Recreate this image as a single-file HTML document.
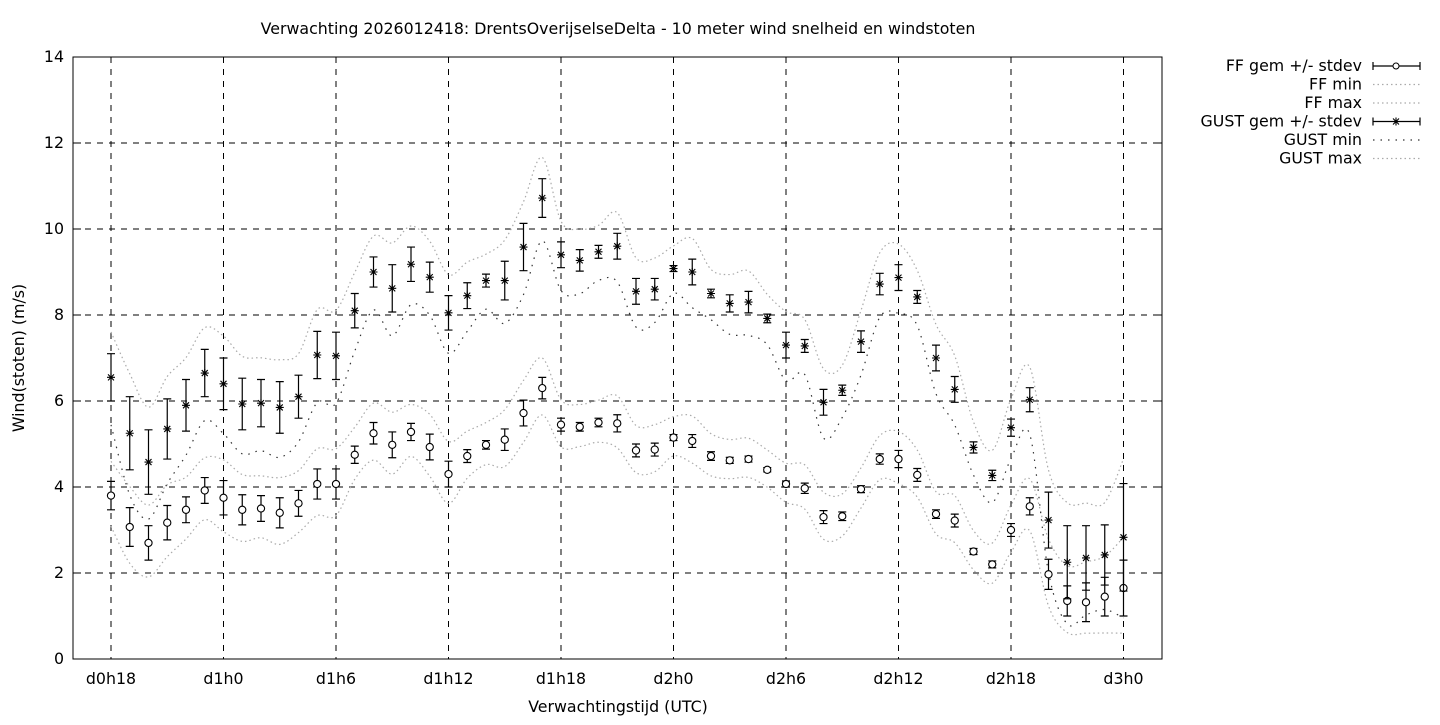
<!DOCTYPE html>
<html><head><meta charset="utf-8"><style>
body{margin:0;background:#fff;}
svg text{font-family:"DejaVu Sans","Liberation Sans",sans-serif;font-size:15.8px;fill:#000;}
</style></head><body>
<svg id="s" width="1440" height="720" xmlns="http://www.w3.org/2000/svg"></svg>
<script>
const s=document.getElementById('s');
const X0=73,X1=1162,Y0=659,Y1=57;
const yv=v=>Y0-(Y0-Y1)*v/14;
const xi=i=>111+i*18.75;
let h='';
h+=`<text x="618" y="34" text-anchor="middle">Verwachting 2026012418: DrentsOverijselseDelta - 10 meter wind snelheid en windstoten</text>`;
for(let v=0;v<=14;v+=2){const y=yv(v);
 if(v>0&&v<14)h+=`<line x1="${X0}" y1="${y}" x2="${X1}" y2="${y}" stroke="#000" stroke-dasharray="6,6"/>`;
 h+=`<line x1="${X0}" y1="${y}" x2="${X0+8}" y2="${y}" stroke="#000"/><line x1="${X1}" y1="${y}" x2="${X1-8}" y2="${y}" stroke="#000"/>`;
 h+=`<text x="${X0-9}" y="${y+5}" text-anchor="end">${v}</text>`;}
const labs=['d0h18','d1h0','d1h6','d1h12','d1h18','d2h0','d2h6','d2h12','d2h18','d3h0'];
labs.forEach((l,k)=>{const x=xi(k*6);
 h+=`<line x1="${x}" y1="${Y1}" x2="${x}" y2="${Y0}" stroke="#000" stroke-dasharray="6,6"/>`;
 h+=`<text x="${x}" y="684" text-anchor="middle">${l}</text>`;});
h+=`<rect x="${X0}" y="${Y1}" width="${X1-X0}" height="${Y0-Y1}" fill="none" stroke="#000"/>`;
h+=`<text x="618" y="712" text-anchor="middle">Verwachtingstijd (UTC)</text>`;
h+=`<text transform="translate(24,358) rotate(-90)" text-anchor="middle">Wind(stoten) (m/s)</text>`;
const ff=[3.8,3.07,2.7,3.17,3.47,3.92,3.75,3.47,3.5,3.4,3.62,4.07,4.07,4.75,5.25,4.98,5.28,4.93,4.3,4.72,4.98,5.1,5.72,6.3,5.45,5.4,5.5,5.48,4.85,4.87,5.15,5.07,4.72,4.62,4.65,4.4,4.07,3.97,3.3,3.32,3.95,4.65,4.65,4.28,3.37,3.22,2.5,2.2,3.0,3.55,1.97,1.35,1.32,1.45,1.65];
const ffs=[.33,.45,.4,.4,.3,.3,.4,.35,.3,.35,.3,.35,.35,.2,.25,.3,.2,.3,.3,.15,.1,.25,.3,.25,.15,.1,.1,.2,.15,.15,.07,.15,.1,.07,.07,.05,.07,.12,.15,.1,.08,.12,.2,.15,.1,.15,.07,.08,.15,.2,.35,.35,.45,.45,.65];
const gu=[6.55,5.25,4.58,5.35,5.9,6.65,6.4,5.93,5.95,5.85,6.1,7.07,7.05,8.1,9.0,8.62,9.18,8.88,8.05,8.45,8.8,8.8,9.58,10.72,9.4,9.27,9.47,9.6,8.55,8.6,9.08,9.0,8.5,8.27,8.3,7.92,7.3,7.28,5.97,6.25,7.38,8.72,8.87,8.42,7.0,6.27,4.92,4.27,5.38,6.03,3.23,2.25,2.35,2.42,2.83];
const gus=[.55,.85,.75,.7,.6,.55,.6,.6,.55,.6,.5,.55,.55,.4,.35,.55,.4,.35,.4,.3,.15,.45,.55,.45,.3,.25,.15,.3,.3,.25,.07,.3,.1,.2,.25,.1,.3,.15,.3,.12,.25,.25,.3,.15,.3,.3,.13,.12,.2,.28,.65,.85,.75,.7,1.25];
function smooth(arr){let p=arr.map((v,i)=>[xi(i),yv(v)]);let d=`M${p[0][0]},${p[0][1]}`;
 for(let i=0;i<p.length-1;i++){const a=p[Math.max(0,i-1)],b=p[i],c=p[i+1],e=p[Math.min(p.length-1,i+2)];
  d+=` C${b[0]+(c[0]-a[0])/6},${b[1]+(c[1]-a[1])/6} ${c[0]-(e[0]-b[0])/6},${c[1]-(e[1]-b[1])/6} ${c[0]},${c[1]}`;}return d;}
const ffmax=ff.map((v,i)=>v+0.4+ffs[i]*1.2), ffmin=ff.map((v,i)=>Math.max(0.6,v-0.35-ffs[i]*1.1));
const gmax=gu.map((v,i)=>v+0.45+gus[i]*1.1), gmin=gu.map((v,i)=>Math.max(0.8,v-0.5-gus[i]*1.1));
h+=`<path d="${smooth(ffmin)}" fill="none" stroke="#aaa" stroke-width="1.2" stroke-dasharray="1.5,3"/>`;
h+=`<path d="${smooth(ffmax)}" fill="none" stroke="#aaa" stroke-width="1.2" stroke-dasharray="1.5,3"/>`;
h+=`<path d="${smooth(gmin)}" fill="none" stroke="#333" stroke-width="1.2" stroke-dasharray="1.5,6"/>`;
h+=`<path d="${smooth(gmax)}" fill="none" stroke="#aaa" stroke-width="1.2" stroke-dasharray="1.5,3"/>`;
function eb(x,m,sd){const a=yv(m+sd),b=yv(m-sd);return `<path d="M${x},${a}V${b}M${x-4},${a}H${x+4}M${x-4},${b}H${x+4}" stroke="#000" stroke-width="1.2" fill="none"/>`;}
function star(x,y){return `<path d="M${x-4},${y}H${x+4}M${x},${y-4}V${y+4}M${x-3},${y-3}L${x+3},${y+3}M${x-3},${y+3}L${x+3},${y-3}" stroke="#000" stroke-width="1.1"/>`;}
ff.forEach((v,i)=>{h+=eb(xi(i),v,ffs[i]);h+=`<circle cx="${xi(i)}" cy="${yv(v)}" r="3.6" fill="#fff" stroke="#000" stroke-width="1.1"/>`;});
gu.forEach((v,i)=>{h+=eb(xi(i),v,gus[i]);h+=star(xi(i),yv(v));});
const L=[['FF gem +/- stdev','eb','o'],['FF min','d','#aaa'],['FF max','d','#aaa'],['GUST gem +/- stdev','eb','*'],['GUST min','d2','#333'],['GUST max','d','#aaa']];
L.forEach((l,k)=>{const y=66+k*18.5;h+=`<text x="1362" y="${y+5}" text-anchor="end">${l[0]}</text>`;
 if(l[1]=='eb'){h+=`<path d="M1373,${y}H1420M1373,${y-4}V${y+4}M1420,${y-4}V${y+4}" stroke="#000" stroke-width="1.2"/>`;
  h+=l[2]=='o'?`<circle cx="1396" cy="${y}" r="3" fill="#fff" stroke="#000"/>`:star(1396,y);}
 else h+=`<line x1="1373" y1="${y}" x2="1420" y2="${y}" stroke="${l[2]}" stroke-width="1.2" stroke-dasharray="${l[1]=='d2'?'1.5,6':'1.5,3'}"/>`;});
s.innerHTML=h;
</script>
</body></html>
